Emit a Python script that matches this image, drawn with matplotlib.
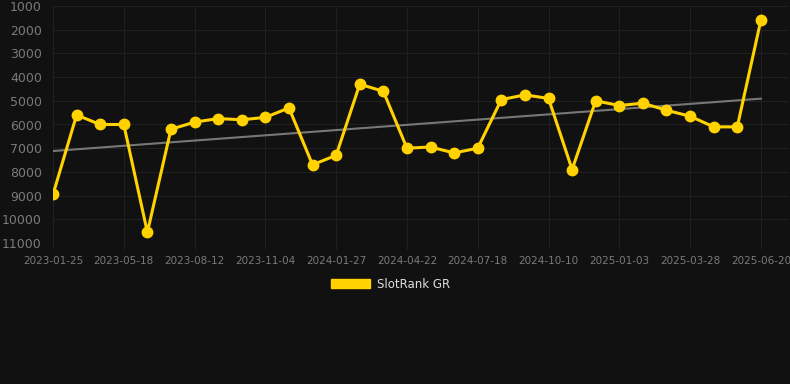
import numpy as np
import matplotlib
matplotlib.use("Agg")
import matplotlib.pyplot as plt
from matplotlib.patches import Patch

# Rank values (lower is better), one point per sample, evenly spaced
ranks = [8950, 5600, 6000, 6000, 10550, 6200, 5900, 5750, 5800, 5700,
         5300, 7700, 7300, 4300, 4600, 7000, 6950, 7200, 7000, 4950,
         4750, 4900, 7900, 5000, 5200, 5100, 5400, 5650, 6100, 6100,
         1600]

# Date labels shown on every third point
tick_labels = ["2023-01-25", "2023-05-18", "2023-08-12", "2023-11-04",
               "2024-01-27", "2024-04-22", "2024-07-18", "2024-10-10",
               "2025-01-03", "2025-03-28", "2025-06-20"]
y_ticks = [1000, 2000, 3000, 4000, 5000, 6000, 7000, 8000, 9000, 10000, 11000]

series_name = "SlotRank GR"

bg = "#111111"
yellow = "#FFD200"

x = np.arange(len(ranks))
slope, intercept = np.polyfit(x, ranks, 1)
trend = slope * x + intercept

fig = plt.figure(figsize=(7.9, 3.84), dpi=100, facecolor=bg)
ax = fig.add_axes([53 / 790, 141 / 384, 735 / 790, 237 / 384])
ax.set_facecolor(bg)

ax.plot(x, trend, color="#777777", lw=1.5, zorder=2)
ax.plot(x, ranks, color=yellow, lw=2.2, marker="o", ms=7.5, zorder=3)

ax.set_ylim(11000, 1000)
ax.set_xlim(0, 31.15)
ax.set_yticks(y_ticks)
ax.set_yticklabels([str(v) for v in y_ticks])
ax.set_xticks(x[::3])
ax.set_xticklabels(tick_labels)

ax.grid(True, color="#202020", lw=0.8)
ax.set_axisbelow(True)
for s in ax.spines.values():
    s.set_visible(False)

ax.tick_params(axis="y", colors="#777777", labelsize=9, length=0, pad=8)
ax.tick_params(axis="x", colors="#777777", labelsize=7.5, length=4,
               color="#222222", pad=5)
for lbl in ax.get_yticklabels() + ax.get_xticklabels():
    lbl.set_color("#7a7a7a")

handle = Patch(facecolor=yellow, edgecolor=yellow)
leg = fig.legend([handle], [series_name], loc="center",
                 bbox_to_anchor=(391 / 790, 1 - 284 / 384), frameon=False,
                 handlelength=3.3, handleheight=0.9, handletextpad=0.6,
                 fontsize=8.5, labelcolor="#dddddd")

fig.savefig("out.png", dpi=100, facecolor=bg)
